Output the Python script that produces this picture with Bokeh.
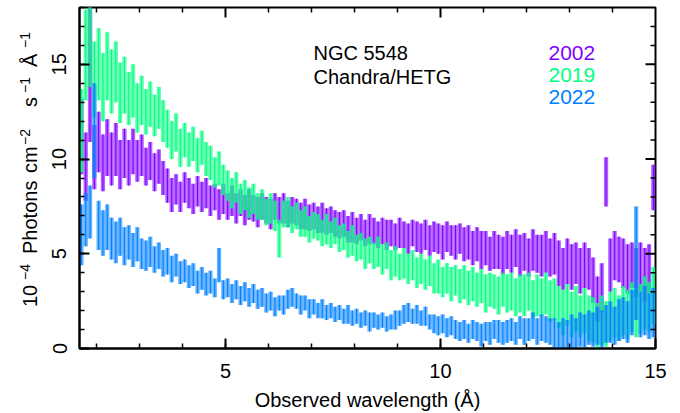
from bokeh.plotting import figure
from bokeh.layouts import row
from bokeh.models import ColumnDataSource, SingleIntervalTicker, Range1d, Label, Div
from bokeh.embed import file_html
from bokeh.resources import INLINE

# ---- data (0.1 A bins) ----
wave = [round(1.65 + 0.1 * i, 2) for i in range(134)]
half_bin = 0.05

flux_2002 = [
    11.2, 9.6, 14.5, 10.1, 10.9, 9.8, 10.6, 10.0, 10.5, 9.7,
    10.3, 9.8, 10.4, 9.9, 10.2, 9.6, 9.9, 9.3, 9.6, 9.0,
    8.6, 8.1, 8.4, 8.0, 8.5, 8.2, 7.9, 8.3, 8.0, 8.2,
    7.8, 8.0, 7.6, 7.9, 7.5, 7.8, 7.4, 7.7, 7.3, 7.6,
    7.4, 7.2, 7.5, 7.3, 7.1, 7.5, 7.3, 7.4, 7.1, 7.3,
    7.2, 7.0, 7.1, 6.9, 7.0, 6.8, 6.9, 6.7, 6.8, 6.6,
    6.5, 6.6, 6.3, 6.4, 6.2, 6.4, 6.1, 6.3, 6.2, 6.0,
    6.2, 6.0, 6.1, 5.9, 6.1, 6.0, 5.8, 6.1, 5.9, 5.8,
    6.0, 5.7, 5.9, 5.8, 5.6, 5.9, 5.7, 5.6, 5.8, 5.5,
    5.6, 5.3, 5.5, 5.2, 5.3, 5.0, 5.2, 5.1, 4.9, 5.2,
    5.0, 5.3, 4.9, 5.1, 4.8, 5.2, 5.0, 4.9, 5.1, 4.8,
    5.0, 4.5, 4.2, 4.6, 4.3, 4.5, 4.1, 4.4, 4.2, 3.6,
    2.6, 3.2, 8.8, 4.4, 4.9, 4.7, 4.5, 4.2, 4.4, 4.0,
    4.3, 3.9, 4.2, 8.5,
]
err_2002 = [
    2.0, 1.8, 3.6, 1.7, 1.6, 1.5, 1.5, 1.4, 1.4, 1.3,
    1.3, 1.2, 1.2, 1.1, 1.1, 1.0, 1.0, 1.0, 0.9, 0.9,
    0.9, 0.9, 0.8, 0.8, 0.8, 0.8, 0.8, 0.8, 0.8, 0.8,
    0.8, 0.7, 0.8, 0.8, 0.7, 0.8, 0.8, 0.7, 0.8, 0.8,
    0.7, 0.8, 0.7, 0.7, 0.8, 0.7, 0.7, 0.8, 0.7, 0.7,
    0.7, 0.7, 0.8, 0.7, 0.7, 0.7, 0.8, 0.7, 0.7, 0.7,
    0.7, 0.7, 0.7, 0.8, 0.7, 0.7, 0.7, 0.8, 0.7, 0.7,
    0.7, 0.8, 0.7, 0.7, 0.8, 0.7, 0.8, 0.7, 0.8, 0.8,
    0.8, 0.8, 0.8, 0.8, 0.9, 0.8, 0.8, 0.9, 0.8, 0.9,
    0.9, 0.9, 0.9, 1.0, 0.9, 0.9, 1.0, 0.9, 1.0, 1.0,
    1.0, 1.0, 1.1, 1.0, 1.0, 1.1, 1.0, 1.1, 1.1, 1.0,
    1.1, 1.2, 1.1, 1.2, 1.2, 1.1, 1.2, 1.2, 1.1, 1.2,
    1.2, 1.3, 1.3, 1.4, 1.3, 1.2, 1.3, 1.3, 1.2, 1.3,
    1.3, 1.4, 1.3, 1.2,
]

flux_2019 = [
    11.5, 15.5, 16.0, 14.2, 15.0, 13.8, 14.9, 14.1, 14.6, 13.5,
    13.9, 13.2, 13.6, 12.7, 13.1, 12.5, 12.9, 12.3, 12.7, 12.0,
    11.6, 11.0, 11.4, 10.6, 11.0, 10.5, 10.8, 10.2, 10.6, 10.0,
    9.8, 9.3, 9.5, 8.9, 8.6, 8.2, 8.5, 7.9, 8.1, 7.7,
    7.9, 7.5, 7.6, 7.2, 7.4, 7.0, 5.8, 7.1, 7.2, 6.8,
    7.0, 6.6, 6.7, 6.3, 6.5, 6.4, 6.1, 6.3, 6.0, 6.2,
    5.8, 5.9, 5.5, 5.7, 5.3, 5.4, 5.0, 5.2, 4.9, 5.1,
    4.7, 4.9, 4.4, 4.6, 4.3, 4.5, 4.2, 4.4, 4.0, 4.2,
    3.9, 4.1, 3.7, 3.8, 3.5, 3.7, 3.4, 3.6, 3.3, 3.5,
    3.2, 3.4, 3.1, 3.3, 2.9, 3.1, 3.0, 2.8, 3.1, 2.9,
    3.0, 2.7, 2.9, 2.8, 3.0, 2.6, 2.8, 2.7, 2.9, 2.5,
    2.6, 2.2, 1.9, 2.3, 1.8, 2.1, 1.7, 2.0, 1.6, 1.5,
    1.2, 1.5, 1.3, 1.7, 1.9, 1.6, 2.0, 1.8, 2.2, 1.9,
    2.1, 2.4, 2.2, 2.8,
]
err_2019 = [
    2.2, 2.4, 2.2, 2.0, 1.9, 1.8, 1.8, 1.7, 1.6, 1.6,
    1.5, 1.4, 1.4, 1.3, 1.3, 1.2, 1.2, 1.1, 1.1, 1.1,
    1.0, 1.0, 1.0, 1.0, 0.9, 0.9, 0.9, 0.9, 0.9, 0.9,
    0.9, 0.8, 0.9, 0.8, 0.8, 0.8, 0.8, 0.8, 0.8, 0.8,
    0.8, 0.7, 0.8, 0.7, 0.8, 0.8, 1.0, 0.7, 0.8, 0.7,
    0.7, 0.7, 0.8, 0.7, 0.7, 0.7, 0.7, 0.8, 0.7, 0.7,
    0.7, 0.7, 0.7, 0.8, 0.7, 0.7, 0.8, 0.7, 0.7, 0.8,
    0.8, 0.7, 0.8, 0.8, 0.7, 0.8, 0.8, 0.8, 0.8, 0.8,
    0.8, 0.8, 0.8, 0.9, 0.8, 0.8, 0.9, 0.8, 0.9, 0.9,
    0.9, 0.9, 0.9, 0.9, 1.0, 0.9, 0.9, 1.0, 0.9, 1.0,
    1.0, 1.0, 1.0, 1.1, 1.0, 1.0, 1.1, 1.0, 1.1, 1.1,
    1.1, 1.1, 1.2, 1.1, 1.2, 1.2, 1.1, 1.2, 1.2, 1.2,
    1.2, 1.3, 1.2, 1.3, 1.3, 1.2, 1.3, 1.3, 1.3, 1.3,
    1.3, 1.4, 1.3, 1.5,
]

flux_2022 = [
    6.0, 6.8, 7.2, 11.5, 6.5, 6.1, 6.4, 5.8, 5.6, 5.9,
    5.4, 5.6, 5.2, 5.5, 5.0, 4.9, 5.1, 4.7, 4.9, 4.5,
    4.6, 4.2, 4.4, 4.0, 4.1, 3.8, 3.9, 3.5, 3.7, 3.4,
    3.5, 3.2, 4.4, 3.1, 3.2, 2.9, 3.1, 2.8, 3.0, 2.7,
    2.9, 2.6, 2.7, 2.4, 2.5, 2.2, 2.4, 2.3, 2.6, 2.7,
    2.5, 2.3, 2.4, 2.1, 2.2, 2.0, 2.1, 1.9, 2.0, 1.8,
    1.9, 1.7, 1.8, 1.6, 1.7, 1.5, 1.6, 1.4, 1.5, 1.4,
    1.5, 1.3, 1.4, 1.5, 1.6, 1.8, 1.9, 1.7, 1.8, 1.6,
    1.7, 1.4, 1.3, 1.2, 1.3, 1.1, 1.2, 1.0, 0.9, 1.0,
    0.8, 1.0, 0.9, 0.7, 0.9, 0.8, 1.0, 0.9, 0.8, 0.9,
    1.0, 0.8, 1.1, 0.9, 1.0, 1.2, 0.9, 1.1, 1.0, 0.9,
    0.8, 0.6, 0.8, 0.7, 0.9, 0.8, 1.0, 0.9, 1.1, 1.0,
    1.2, 1.0, 1.3, 1.4, 1.2, 1.5, 1.6, 1.4, 1.9, 4.5,
    1.8, 2.0, 1.7, 1.9,
]
err_2022 = [
    1.6, 1.4, 1.4, 2.5, 1.3, 1.2, 1.2, 1.1, 1.1, 1.0,
    1.0, 0.9, 0.9, 0.9, 0.8, 0.8, 0.8, 0.7, 0.7, 0.7,
    0.7, 0.7, 0.6, 0.6, 0.6, 0.6, 0.6, 0.6, 0.6, 0.6,
    0.6, 0.5, 0.9, 0.5, 0.5, 0.5, 0.5, 0.5, 0.5, 0.5,
    0.5, 0.5, 0.5, 0.5, 0.5, 0.5, 0.4, 0.5, 0.5, 0.5,
    0.4, 0.5, 0.4, 0.5, 0.4, 0.4, 0.5, 0.4, 0.4, 0.4,
    0.4, 0.4, 0.5, 0.4, 0.4, 0.4, 0.4, 0.5, 0.4, 0.4,
    0.4, 0.4, 0.4, 0.5, 0.4, 0.5, 0.5, 0.4, 0.5, 0.4,
    0.5, 0.4, 0.5, 0.5, 0.5, 0.5, 0.5, 0.5, 0.5, 0.5,
    0.5, 0.5, 0.5, 0.6, 0.5, 0.6, 0.5, 0.6, 0.6, 0.6,
    0.6, 0.6, 0.6, 0.7, 0.6, 0.7, 0.7, 0.7, 0.7, 0.7,
    0.8, 0.8, 0.8, 0.8, 0.9, 0.8, 0.9, 0.9, 0.9, 0.9,
    1.0, 1.0, 1.0, 1.1, 1.0, 1.1, 1.1, 1.1, 1.2, 3.0,
    1.2, 1.3, 1.2, 1.3,
]

series = [
    ("2002", flux_2002, err_2002, "#8000ff"),
    ("2019", flux_2019, err_2019, "#00ff80"),
    ("2022", flux_2022, err_2022, "#0080ff"),
]

# axis ranges and tick positions
X0, X1 = 1.605, 15.0
Y0, Y1 = 0.0, 18.0
x_ticks = list(range(2, 16))          # every 1 A, major each 5
y_ticks = list(range(0, 19))          # every 1 unit, major each 5

FONT = "Liberation Sans"
H = 413
LW = 42

# ---------------- left strip: y-axis title with raised superscripts (HTML text) ------
ylabel_text = ["10", "−4", "Photons", "cm", "−2", "s", "−1", "Å", "−1"]
ylabel_is_sup = [False, True, False, False, True, False, True, False, True]
ylabel_start = [307, 280, 254, 173, 145, 107, 93, 67, 48]   # pixel rows from the top

spans = []
for txt, sup, start in zip(ylabel_text, ylabel_is_sup, ylabel_start):
    fs = 14 if sup else 20
    base_x = 30 if sup else 37
    left = base_x - 0.8465 * fs
    spans.append(
        f'<span style="position:absolute; left:{left:.1f}px; top:{start}px; '
        f'transform:rotate(-90deg); transform-origin:0 0; white-space:nowrap; '
        f'font-family:\'{FONT}\'; font-size:{fs}px; line-height:{fs}px; color:#000;">'
        f'{txt}</span>')
ydiv = Div(text="".join(spans), width=LW, height=H, margin=0,
           styles={"position": "relative", "overflow": "visible"})

# ---------------- main plot -------------
W = 680 - LW
BL, BR, BT, BB = 79 - LW, 25, 7, 64
p = figure(width=W, height=H,
           x_range=Range1d(X0, X1), y_range=Range1d(Y0, Y1),
           output_backend="svg", toolbar_location=None,
           min_border_left=BL, min_border_right=BR,
           min_border_top=BT, min_border_bottom=BB)
p.grid.visible = False
p.outline_line_color = "black"
p.outline_line_width = 2
p.background_fill_color = "white"
p.border_fill_color = "white"

fw = W - BL - BR
fh = H - BT - BB
xpp = (X1 - X0) / fw      # data units per pixel
ypp = (Y1 - Y0) / fh

for name, flux, err, color in series:
    lo = [max(f - e, 0.0) for f, e in zip(flux, err)]
    hi = [f + e for f, e in zip(flux, err)]
    src = ColumnDataSource(dict(
        left=[w - half_bin for w in wave], right=[w + half_bin for w in wave],
        x=wave, y=flux, lo=lo, hi=hi))
    p.quad(left="left", right="right", bottom="lo", top="hi", source=src,
           fill_color=color, fill_alpha=0.6, line_color=None)
    p.segment(x0="x", y0="lo", x1="x", y1="hi", source=src,
              line_color=color, line_width=1.1)

def style_axis(ax):
    ax.axis_line_color = "black"
    ax.axis_line_width = 2
    ax.major_tick_in = 10
    ax.major_tick_out = 0
    ax.minor_tick_in = 5
    ax.minor_tick_out = 0
    ax.major_tick_line_width = 2
    ax.minor_tick_line_width = 1.5
    ax.major_tick_line_color = "black"
    ax.minor_tick_line_color = "black"
    ax.major_label_text_font = FONT
    ax.major_label_text_font_size = "20px"
    ax.major_label_text_color = "black"
    ax.axis_label_text_font = FONT
    ax.axis_label_text_font_size = "20px"
    ax.axis_label_text_font_style = "normal"
    ax.axis_label_text_color = "black"

p.xaxis.ticker = SingleIntervalTicker(interval=5, num_minor_ticks=5)
p.yaxis.ticker = SingleIntervalTicker(interval=5, num_minor_ticks=5)
style_axis(p.xaxis[0])
style_axis(p.yaxis[0])
p.xaxis.axis_label = "Observed wavelength (Å)"
p.xaxis.major_label_standoff = 15
p.xaxis.axis_label_standoff = 8
p.yaxis.major_label_orientation = "vertical"
p.yaxis.major_label_standoff = 13

# ticks on the top and right edges of the box (inward)
tx = [t for t in x_ticks if X0 < t < X1]
tlen_x = [(10 if t % 5 == 0 else 5) * ypp for t in tx]
p.segment(x0=tx, y0=[Y1] * len(tx), x1=tx, y1=[Y1 - l for l in tlen_x],
          line_color="black", line_width=[2 if t % 5 == 0 else 1.5 for t in tx])
ty = [t for t in y_ticks if Y0 < t < Y1]
tlen_y = [(10 if t % 5 == 0 else 5) * xpp for t in ty]
p.segment(x0=[X1] * len(ty), y0=ty, x1=[X1 - l for l in tlen_y], y1=ty,
          line_color="black", line_width=[2 if t % 5 == 0 else 1.5 for t in ty])

def px_x(page_x):
    return X0 + (page_x - 79) * xpp

def px_y(page_y):
    return Y0 + (H - BB - page_y) * ypp

# annotation texts
p.add_layout(Label(x=px_x(313), y=px_y(53), text="NGC 5548", text_font=FONT,
                   text_font_size="20px", text_color="black", text_baseline="alphabetic"))
p.add_layout(Label(x=px_x(313), y=px_y(77), text="Chandra/HETG", text_font=FONT,
                   text_font_size="20px", text_color="black", text_baseline="alphabetic"))
year_base = [53, 75, 97]
for (name, flux, err, color), yb in zip(series, year_base):
    p.add_layout(Label(x=px_x(548), y=px_y(yb), text=name, text_font=FONT,
                       text_font_size="21px", text_color=color, text_baseline="alphabetic"))

layout = row(ydiv, p)
open("out.html", "w").write(file_html(layout, INLINE))
